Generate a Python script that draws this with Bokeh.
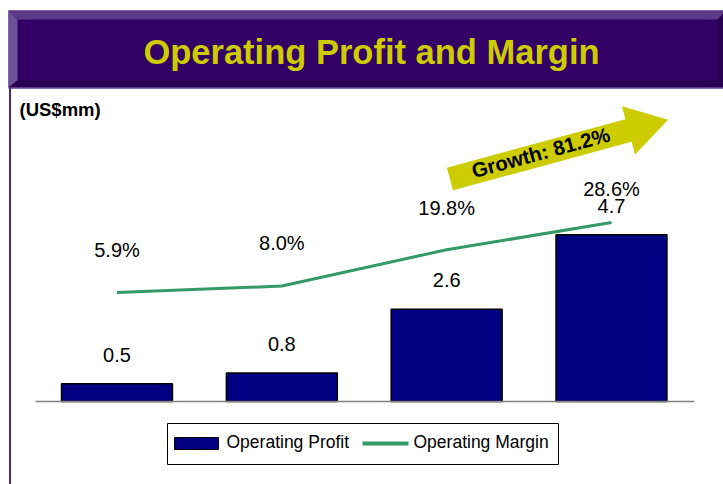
import math
from bokeh.plotting import figure
from bokeh.models import Range1d, ColumnDataSource
from bokeh.core.properties import value
from bokeh.embed import file_html
from bokeh.resources import INLINE

# ---------------- data ----------------
positions = [0, 1, 2, 3]
profit = [0.5, 0.8, 2.6, 4.7]            # Operating Profit, US$mm
margin = [5.9, 8.0, 19.8, 28.6]          # Operating Margin, %
profit_labels = ["0.5", "0.8", "2.6", "4.7"]
margin_labels = ["5.9%", "8.0%", "19.8%", "28.6%"]
growth_text = "Growth: 81.2%"
title_text = "Operating Profit and Margin"
unit_text = "(US$mm)"
legend_labels = ["Operating Profit", "Operating Margin"]

# ---------------- style ----------------
W, H = 723, 484
FONT = value("Liberation Sans")
NAVY = "#000080"
GREEN = "#339966"
YELLOW = "#cccc00"
PURPLE = "#330066"
margin_label_dy = [-43, -43, -42, -34]

src = ColumnDataSource(dict(x=positions, profit=profit, margin=margin,
                            plab=profit_labels, mlab=margin_labels,
                            mdy=margin_label_dy))

p = figure(width=W, height=H, output_backend="svg", toolbar_location=None,
           x_axis_type=None, y_axis_type=None, min_border=0,
           x_range=Range1d(-0.7068, 3.6796), y_range=Range1d(-2.338, 11.296))
p.outline_line_color = None
p.grid.visible = False
p.background_fill_color = "white"
p.border_fill_color = "white"
p.extra_x_ranges = {"px": Range1d(0, W)}
p.extra_y_ranges = {"px": Range1d(0, H), "margin": Range1d(-56.43, 100.71)}

PX = dict(x_range_name="px", y_range_name="px")

# ---------------- banner ----------------
bx0, bx1, by0, by1 = 8, 726, 397, 474
bt, bl, bb = 9, 9, 7
p.patch([bx0, bx1, bx1, bx0], [by0, by0, by1, by1], fill_color=PURPLE, line_color=None, **PX)
p.patch([bx0, bx1, bx1 - bl, bx0 + bl], [by1, by1, by1 - bt, by1 - bt],
        fill_color="#5c3a87", line_color=None, **PX)
p.patch([bx0, bx0 + bl, bx0 + bl, bx0], [by1, by1 - bt, by0 + bb, by0],
        fill_color="#6e4f9a", line_color=None, **PX)
p.patch([bx1, bx1 - bl, bx1 - bl, bx1], [by1, by1 - bt, by0 + bb, by0],
        fill_color="#2a0050", line_color=None, **PX)
p.patch([bx0, bx0 + bl, bx1 - bl, bx1], [by0, by0 + bb, by0 + bb, by0],
        fill_color="#2a0050", line_color=None, **PX)
p.segment(x0=[bx0], y0=[by0 - 0.5], x1=[bx1], y1=[by0 - 0.5], line_color="#5b3c8c",
          line_width=1.5, **PX)
p.segment(x0=[9.5], y0=[by0], x1=[9.5], y1=[-10], line_color="#4a2a80", line_width=2, **PX)
p.text(x=[371], y=[433], text=[title_text], text_font=FONT, text_font_size="34.5px",
       text_font_style="bold", text_color=YELLOW, text_align="center",
       text_baseline="alphabetic", **PX)

# unit label
p.text(x=[19], y=[375], text=[unit_text], text_font=FONT, text_font_size="18.5px",
       text_font_style="bold", text_color="black", text_align="left",
       text_baseline="alphabetic", **PX)

# ---------------- bars ----------------
bars = p.vbar(x="x", top="profit", bottom=0, width=0.673, source=src,
              fill_color=NAVY, line_color="black", line_width=1.5)
p.segment(x0=[35], y0=[0], x1=[694], y1=[0], line_color="#808080", line_width=1.5,
          x_range_name="px")
p.text(x="x", y="profit", text="plab", source=src, text_font=FONT, text_font_size="20px",
       text_color="black", text_align="center", text_baseline="alphabetic", y_offset=-29)

# ---------------- margin line ----------------
line = p.line(x="x", y="margin", source=src, line_color=GREEN, line_width=3,
              y_range_name="margin")
p.text(x="x", y="margin", text="mlab", source=src, text_font=FONT, text_font_size="20px",
       text_color="black", text_align="center", text_baseline="alphabetic",
       y_offset="mdy", y_range_name="margin")

# ---------------- growth arrow ----------------
ax0, ay0 = 449.5, 305.5
theta = math.radians(15.2)
L, hl, hw, HW = 226, 41, 11.75, 25
local = [(0, -hw), (L - hl, -hw), (L - hl, -HW), (L, 0), (L - hl, HW), (L - hl, hw), (0, hw)]
c, s = math.cos(theta), math.sin(theta)
axs = [ax0 + u * c - v * s for u, v in local]
ays = [ay0 + u * s + v * c for u, v in local]
p.patch(axs, ays, fill_color=YELLOW, line_color=None, **PX)
tu, tv = 94.5, 2
p.text(x=[ax0 + tu * c - tv * s], y=[ay0 + tu * s + tv * c], text=[growth_text], angle=theta,
       text_font=FONT, text_font_size="20.5px", text_font_style="bold",
       text_color="black", text_align="center", text_baseline="middle", **PX)

# ---------------- legend ----------------
p.quad(left=[167], right=[558], bottom=[20], top=[61], fill_color="white",
       line_color="black", line_width=1, **PX)
p.quad(left=[174], right=[218], bottom=[35], top=[47], fill_color=NAVY,
       line_color="black", line_width=1, **PX)
p.segment(x0=[362], y0=[41], x1=[408], y1=[41], line_color=GREEN, line_width=4, **PX)
p.text(x=[226, 413], y=[43, 43], text=legend_labels, text_font=FONT,
       text_font_size="17.5px", text_color="black", text_align="left",
       text_baseline="alphabetic", **PX)

open("out.html", "w").write(file_html(p, INLINE))
